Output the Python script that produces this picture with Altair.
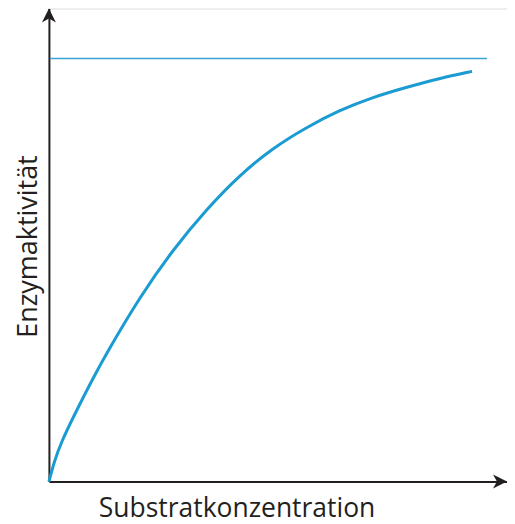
import altair as alt
import pandas as pd

# Curve (substrate concentration vs. enzyme activity), arbitrary units
conc = [0, 5, 12, 28, 45, 58, 91, 124, 158, 191, 224, 258, 291, 324, 358, 391, 424]
activity = [0, 19, 39, 72, 105, 129, 185, 232, 273, 307, 334, 355, 372, 385, 395, 404, 411]

# Maximum activity (asymptote)
vmax = 424
vmax_span = [1, 439]

# Axis extents (arrow tips)
x_end = 459
y_end = 474

curve_df = pd.DataFrame({"c": conc, "v": activity})
vmax_df = pd.DataFrame({"c": [vmax_span[0]], "c2": [vmax_span[1]], "v": [vmax]})
xarrow_df = pd.DataFrame({"c": [x_end], "v": [0]})
yarrow_df = pd.DataFrame({"c": [0], "v": [y_end]})

AXIS_COL = "#231f20"
BLUE = "#1a9bd2"

xs = alt.Scale(domain=[0, x_end], nice=False, zero=False)
ys = alt.Scale(domain=[0, y_end], nice=False, zero=False)

x_axis = alt.Axis(
    title="Substratkonzentration", labels=False, ticks=False, grid=False,
    domainColor=AXIS_COL, domainWidth=2,
    titleFont="Open Sans", titleFontSize=26.5, titleFontWeight="normal",
    titleColor=AXIS_COL, titleX=188, titleY=35, titleAlign="center",
    titleBaseline="alphabetic",
)
y_axis = alt.Axis(
    title="Enzymaktivität", labels=False, ticks=False, grid=False,
    domainColor=AXIS_COL, domainWidth=2,
    titleFont="Open Sans", titleFontSize=27, titleFontWeight="normal",
    titleColor=AXIS_COL, titleX=-12, titleY=238, titleAngle=270,
    titleAlign="center", titleBaseline="alphabetic",
)

curve = alt.Chart(curve_df).mark_line(
    color=BLUE, strokeWidth=3, interpolate="basis", clip=False
).encode(
    x=alt.X("c:Q", scale=xs, axis=x_axis),
    y=alt.Y("v:Q", scale=ys, axis=y_axis),
)

vmax_line = alt.Chart(vmax_df).mark_rule(color="#3aa5d2", strokeWidth=1.5).encode(
    x=alt.X("c:Q", scale=xs),
    x2="c2:Q",
    y=alt.Y("v:Q", scale=ys),
)

xarrow = alt.Chart(xarrow_df).mark_point(
    shape="M0,0L-1,0.5L-0.72,0L-1,-0.5Z", size=784, filled=True,
    color=AXIS_COL, opacity=1, clip=False
).encode(x=alt.X("c:Q", scale=xs), y=alt.Y("v:Q", scale=ys))

yarrow = alt.Chart(yarrow_df).mark_point(
    shape="M0,0L0.5,1L0,0.72L-0.5,1Z", size=784, filled=True,
    color=AXIS_COL, opacity=1, clip=False
).encode(x=alt.X("c:Q", scale=xs), y=alt.Y("v:Q", scale=ys))

chart = alt.layer(vmax_line, curve, xarrow, yarrow).properties(
    width=459, height=474,
    autosize=alt.AutoSizeParams(type="none"),
    padding={"left": 41, "top": 0, "right": 0, "bottom": 42},
).configure_view(stroke=None).configure(background="white")

chart.save("out.html", embed_options={"renderer": "svg", "actions": False})
